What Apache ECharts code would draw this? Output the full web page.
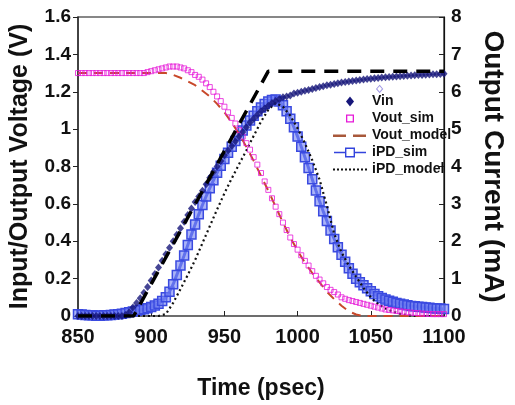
<!DOCTYPE html>
<html><head><meta charset="utf-8">
<script src="https://cdn.jsdelivr.net/npm/echarts@6/dist/echarts.min.js"></script>
<style>html,body{margin:0;padding:0;background:#fff}#c{width:515px;height:405px}</style>
</head><body><div id="c"></div>
<script>
// Simulation sample times (psec)
const timeSim = [850,852.5,855,857.5,860,862.5,865,867.5,870,872.5,875,877.5,880,882.5,885,887.5,890,892.5,895,897.5,
900,902.5,905,907.5,910,912.5,915,917.5,920,922.5,925,927.5,930,932.5,935,937.5,940,942.5,945,947.5,
950,952.5,955,957.5,960,962.5,965,967.5,970,972.5,975,977.5,980,982.5,985,987.5,990,992.5,995,997.5,
1000,1002.5,1005,1007.5,1010,1012.5,1015,1017.5,1020,1022.5,1025,1027.5,1030,1032.5,1035,1037.5,1040,1042.5,1045,1047.5,
1050,1052.5,1055,1057.5,1060,1062.5,1065,1067.5,1070,1072.5,1075,1077.5,1080,1082.5,1085,1087.5,1090,1092.5,1095,1097.5,1100];
// Vin (V)
const vin = [0,0,0,0,0,0,0,0,0,0,0,0,0,0.005,0.02,0.045,0.07,0.095,0.125,0.155,
0.19,0.225,0.26,0.295,0.33,0.365,0.40,0.435,0.47,0.505,0.54,0.575,0.61,0.64,0.67,0.705,0.74,0.77,0.80,0.83,
0.86,0.885,0.91,0.935,0.96,0.985,1.01,1.035,1.055,1.075,1.095,1.11,1.125,1.14,1.15,1.16,1.17,1.175,1.18,1.19,
1.195,1.20,1.205,1.21,1.215,1.22,1.225,1.23,1.235,1.238,1.242,1.245,1.25,1.252,1.255,1.258,1.26,1.263,1.265,1.268,
1.27,1.272,1.274,1.276,1.277,1.279,1.28,1.282,1.283,1.284,1.285,1.287,1.288,1.289,1.29,1.291,1.292,1.293,1.294,1.295,1.296];
// Vout_sim (V)
const voutSim = [1.30,1.30,1.30,1.30,1.30,1.30,1.30,1.30,1.30,1.30,1.30,1.30,1.30,1.30,1.30,1.30,1.30,1.30,1.30,1.305,
1.31,1.315,1.32,1.325,1.33,1.335,1.335,1.335,1.33,1.325,1.315,1.305,1.29,1.28,1.265,1.245,1.225,1.20,1.175,1.15,
1.12,1.09,1.06,1.03,0.995,0.96,0.925,0.89,0.85,0.81,0.765,0.72,0.675,0.63,0.585,0.545,0.50,0.46,0.42,0.385,
0.355,0.325,0.295,0.27,0.24,0.215,0.195,0.175,0.155,0.14,0.128,0.115,0.10,0.092,0.085,0.08,0.075,0.07,0.065,0.06,
0.055,0.05,0.045,0.04,0.035,0.032,0.03,0.027,0.025,0.022,0.02,0.018,0.016,0.015,0.013,0.012,0.011,0.01,0.01,0.01,0.01];
// iPD_sim (mA)
const ipdSim = [0.05,0.04,0.03,0.02,0.02,0.01,0.01,0.02,0.02,0.03,0.04,0.05,0.06,0.08,0.10,0.12,0.14,0.16,0.18,0.21,
0.24,0.28,0.33,0.40,0.50,0.65,0.85,1.10,1.35,1.62,1.90,2.18,2.45,2.72,2.97,3.20,3.42,3.63,3.83,4.02,
4.20,4.37,4.53,4.68,4.82,4.96,5.10,5.23,5.36,5.48,5.58,5.67,5.74,5.78,5.79,5.74,5.64,5.48,5.28,5.05,
4.80,4.53,4.25,3.96,3.66,3.36,3.07,2.80,2.54,2.29,2.06,1.84,1.64,1.45,1.28,1.13,1.00,0.90,0.82,0.74,
0.66,0.59,0.53,0.48,0.44,0.41,0.38,0.35,0.33,0.31,0.29,0.27,0.26,0.25,0.24,0.23,0.22,0.21,0.20,0.20,0.19];
// Model sample times (psec)
const timeModel = [850,855,860,865,870,875,880,885,890,895,900,905,910,915,920,925,930,935,940,945,
950,955,960,965,970,975,980,985,990,995,1000,1005,1010,1015,1020,1025,1030,1035,1040,1045,
1050,1055,1060,1065,1070,1075,1080,1085,1090,1095,1100];
// Vout_model (V)
const voutModel = [1.30,1.30,1.30,1.30,1.30,1.30,1.30,1.30,1.30,1.30,1.30,1.30,1.30,1.29,1.275,1.255,1.235,1.205,1.175,1.135,
1.09,1.035,0.975,0.905,0.83,0.75,0.67,0.585,0.50,0.42,0.35,0.285,0.23,0.18,0.13,0.09,0.055,0.025,0.008,0,
0,0,0,0,0,0,0,0,0,0,0];
// iPD_model (mA)
const ipdModel = [0,0,0,0,0,0,0,0,0,0,0,0,0.05,0.35,0.72,1.1,1.5,1.95,2.4,2.85,
3.28,3.68,4.06,4.43,4.82,5.2,5.52,5.7,5.6,5.36,5.02,4.62,4.17,3.65,2.95,2.2,1.7,1.35,1.05,0.75,
0.5,0.32,0.2,0.12,0.06,0.02,0,0,0,0,0];
// Ideal input ramp (black dashed)
const rampTime = [850, 888, 980, 1100];
const rampV = [0, 0, 1.31, 1.31];
// Isolated hollow diamond
const strayTime = [1056];
const strayV = [1.215];

const legendNames = ['Vin','Vout_sim','Vout_model','iPD_sim','iPD_model'];
const F = '"Liberation Sans", Arial, sans-serif';
const pair = (xs, ys) => xs.map((x, i) => [x, ys[i]]);

const BOX = 'M0,0M34,12';
const icons = {
  Vin: 'path://' + BOX + 'M17,1L21,6L17,11L13,6Z',
  Vout_sim: 'path://' + BOX + 'M13,2h8v8h-8ZM14.3,3.3v5.4h5.4v-5.4Z',
  Vout_model: 'path://' + BOX + 'M0,5h13v2.4h-13ZM20,5h13v2.4h-13Z',
  iPD_sim: 'path://' + BOX + 'M1,5.3h11v1.4h-11ZM22,5.3h11v1.4h-11ZM12,1h10v10h-10ZM13.4,2.4v7.2h7.2v-7.2Z',
  iPD_model: 'path://' + BOX + 'M0,5h2v2h-2ZM4,5h2v2h-2ZM8,5h2v2h-2ZM12,5h2v2h-2ZM16,5h2v2h-2ZM20,5h2v2h-2ZM24,5h2v2h-2ZM28,5h2v2h-2ZM32,5h2v2h-2Z'
};
const iconColors = {Vin: '#16167a', Vout_sim: '#e619d8', Vout_model: '#a8583a', iPD_sim: '#3344dd', iPD_model: '#111'};

const chart = echarts.init(document.getElementById('c'), null, {renderer: 'canvas'});
chart.setOption({
  animation: false,
  backgroundColor: '#fff',
  grid: {left: 77, right: 60, top: 17, bottom: 86, show: true, borderColor: '#111', borderWidth: 1.2},
  xAxis: {
    type: 'value', min: 850, max: 1100, interval: 50,
    name: 'Time (psec)', nameLocation: 'middle', nameGap: 61,
    nameTextStyle: {fontFamily: F, fontWeight: 'bold', fontSize: 23, color: '#111'},
    axisLine: {show: true, lineStyle: {color: '#666', width: 1.5}},
    axisTick: {inside: true, length: 5, lineStyle: {color: '#222'}},
    axisLabel: {fontFamily: F, fontWeight: 'bold', fontSize: 20, color: '#111', margin: 11, formatter: v => String(v)},
    splitLine: {show: false}
  },
  yAxis: [{
    type: 'value', min: 0, max: 1.6, interval: 0.2, position: 'left',
    name: 'Input/Output Voltage (V)', nameLocation: 'middle', nameGap: 45, nameRotate: 90,
    nameTextStyle: {fontFamily: F, fontWeight: 'bold', fontSize: 25, color: '#111'},
    axisLine: {show: true, lineStyle: {color: '#333', width: 1.5}},
    axisTick: {inside: false, length: 5, lineStyle: {color: '#222'}},
    axisLabel: {fontFamily: F, fontWeight: 'bold', fontSize: 19, color: '#111', margin: 7},
    splitLine: {show: false}
  }, {
    type: 'value', min: 0, max: 8, interval: 1, position: 'right',
    name: 'Output Current (mA)', nameLocation: 'middle', nameGap: 35, nameRotate: -90,
    nameTextStyle: {fontFamily: F, fontWeight: 'bold', fontSize: 28, color: '#111'},
    axisLine: {show: true, lineStyle: {color: '#111', width: 1.2}},
    axisTick: {inside: true, length: 5, lineStyle: {color: '#222'}},
    axisLabel: {fontFamily: F, fontWeight: 'bold', fontSize: 19, color: '#111', margin: 7},
    splitLine: {show: false}
  }],
  legend: {
    data: legendNames.map(n => ({name: n, icon: icons[n], itemStyle: {color: iconColors[n], borderWidth: 0, opacity: 1}})),
    orient: 'vertical', left: 328, top: 89,
    itemWidth: 34, itemHeight: 12, itemGap: 2,
    textStyle: {fontFamily: F, fontWeight: 'bold', fontSize: 14, lineHeight: 15, color: '#111'}
  },
  series: [{
    name: 'iPD_sim', type: 'line', yAxisIndex: 1, data: pair(timeSim, ipdSim),
    symbol: 'rect', symbolSize: 9, showSymbol: true,
    lineStyle: {color: '#4a5ae6', width: 3},
    itemStyle: {color: 'rgba(115,130,242,0.6)', borderColor: '#3a4ae0', borderWidth: 1.5},
    z: 2
  }, {
    name: 'iPD_model', type: 'line', yAxisIndex: 1, data: pair(timeModel, ipdModel),
    symbol: 'none', itemStyle: {color: '#111'}, lineStyle: {color: '#111', width: 2.2, type: [2, 3]}, z: 3
  }, {
    name: 'Vout_model', type: 'line', yAxisIndex: 0, data: pair(timeModel, voutModel),
    symbol: 'none', itemStyle: {color: '#c8482a'}, lineStyle: {color: '#c8482a', width: 2, type: [9, 7]}, z: 3
  }, {
    name: 'Vout_sim', type: 'scatter', yAxisIndex: 0, data: pair(timeSim, voutSim),
    symbol: 'rect', symbolSize: 5,
    itemStyle: {color: 'rgba(255,255,255,0)', borderColor: '#e619d8', borderWidth: 1}, z: 4
  }, {
    name: 'Vin', type: 'scatter', yAxisIndex: 0, data: pair(timeSim, vin),
    symbol: 'diamond', symbolSize: [7, 8],
    itemStyle: {color: '#16167a'}, z: 5
  }, {
    name: 'ramp', type: 'line', yAxisIndex: 0, data: pair(rampTime, rampV),
    symbol: 'none', lineStyle: {color: '#000', width: 3.5, type: [14, 9]}, z: 6
  }, {
    name: 'stray', type: 'scatter', yAxisIndex: 0, data: pair(strayTime, strayV),
    symbol: 'diamond', symbolSize: [6, 7],
    itemStyle: {color: '#fff', borderColor: '#8a80dd', borderWidth: 1}, z: 6
  }]
});
</script>
</body></html>
